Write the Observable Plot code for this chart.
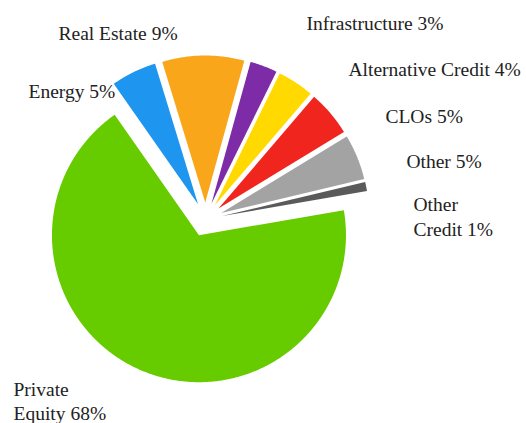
<!DOCTYPE html>
<html>
<head>
<meta charset="utf-8">
<script src="https://cdn.jsdelivr.net/npm/d3@7"></script>
<script src="https://cdn.jsdelivr.net/npm/@observablehq/plot@0.6"></script>
<style>
  html, body { margin: 0; padding: 0; background: #fff; }
</style>
</head>
<body>
<div id="chart"></div>
<script>
// ---- data ----
const categories = ["Energy", "Real Estate", "Infrastructure", "Alternative Credit", "CLOs", "Other", "Other Credit", "Private Equity"];
const shares = [5, 9, 3, 4, 5, 5, 1, 68];
const colors = ["#1e96f0", "#f9a61a", "#7e2ba8", "#ffd900", "#f0261e", "#a3a3a3", "#5a5a5a", "#66cc00"];
const twoLine = ["Other Credit", "Private Equity"];

// ---- layout (pie radius = 1 unit) ----
const W = 526, H = 423;
const cx = 205, cy = 219, R = 147;       // pie centre & radius in px
const explode = 17 / R;                  // every slice pulled out along its bisector
const startDeg = -35;
// label anchors (left edge, vertical middle), in pie units
const labelAt = [
  [-1.204, 0.878], [-1.0, 1.272], [0.687, 1.340], [0.973, 1.027],
  [1.224, 0.707], [1.367, 0.401], [1.415, 0.027], [-1.306, -1.231]
];

const arcs = d3.pie().sort(null).value(d => d)
  .startAngle(startDeg * Math.PI / 180)
  .endAngle(startDeg * Math.PI / 180 + 2 * Math.PI)(shares);

const pts = [];
arcs.forEach((a, i) => {
  const m = (a.startAngle + a.endAngle) / 2;
  const ox = explode * Math.sin(m), oy = explode * Math.cos(m);
  pts.push({name: categories[i], x: ox, y: oy});
  const n = Math.max(2, Math.ceil((a.endAngle - a.startAngle) / (Math.PI / 360)));
  for (let k = 0; k <= n; k++) {
    const t = a.startAngle + (a.endAngle - a.startAngle) * k / n;
    pts.push({name: categories[i], x: ox + Math.sin(t), y: oy + Math.cos(t)});
  }
});

const labels = categories.map((c, i) => {
  let name = c;
  if (twoLine.includes(c)) name = c.replace(" ", "\n");
  return {text: `${name} ${shares[i]}%`, x: labelAt[i][0], y: labelAt[i][1]};
});

const chart = Plot.plot({
  width: W,
  height: H,
  margin: 0,
  x: {domain: [-cx / R, (W - cx) / R], axis: null},
  y: {domain: [(cy - H) / R, cy / R], axis: null},
  color: {domain: categories, range: colors},
  style: {background: "#fff"},
  marks: [
    Plot.line(pts, {x: "x", y: "y", z: "name", fill: "name", stroke: "none", curve: "linear-closed"}),
    Plot.text(labels, {
      x: "x", y: "y", text: "text",
      textAnchor: "start", lineAnchor: "middle", lineHeight: 1.25,
      fontSize: 19.5, fontFamily: "Liberation Serif",
      fill: "#222"
    })
  ]
});
document.getElementById("chart").appendChild(chart);
</script>
</body>
</html>
